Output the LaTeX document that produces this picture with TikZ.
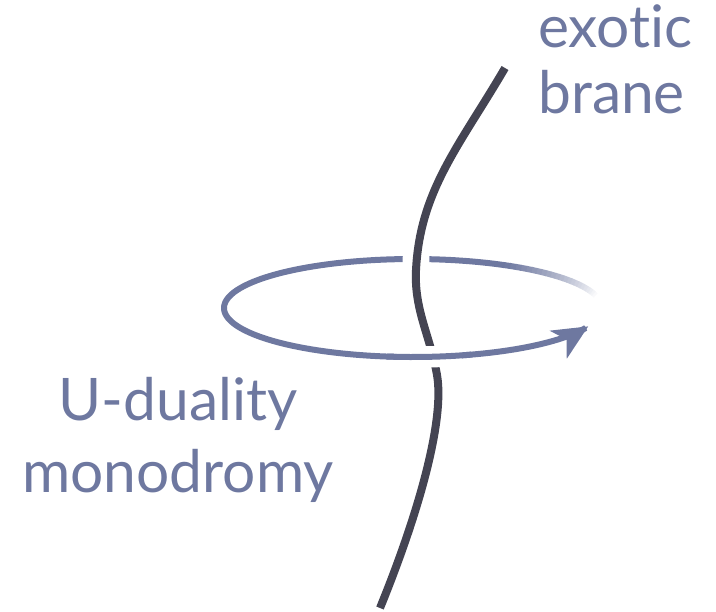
\documentclass[tikz,border=0pt]{standalone}
\usepackage{fontspec}
\setmainfont{Lato}[Ligatures=NoCommon]
\usepackage{xcolor}
\usepackage{tikz}
\usetikzlibrary{arrows.meta}
\definecolor{ardoise}{RGB}{110, 120, 160}
\definecolor{encre}{RGB}{68, 68, 82}

\begin{document}
\begin{tikzpicture}[x=0.75pt, y=-0.75pt,
    etiquette/.style={text=ardoise, inner sep=0pt},
    boucle/.style={draw=ardoise, line width=4.5pt},
    brane/.style={draw=encre, line width=6pt},
    halo/.style={draw=white, line width=#1}]
    \useasboundingbox (0,0) rectangle (716,611);
    % monodromy loop, faded start
    \foreach \a in {13,15,...,59}
      \pgfmathsetmacro{\pc}{(\a-13)/47*100}
      \draw[boucle, draw=ardoise!\pc!white]
        plot[domain=\a:\a+2.2, samples=4] ({413+189*cos(\x)},{308-49*sin(\x)});
    \draw[boucle] plot[domain=61:180, samples=60] ({413+189*cos(\x)},{308-49*sin(\x)});
    \draw[boucle, -{Stealth[length=26pt, width=24pt, inset=7pt]}]
      plot[domain=180:338, samples=80] ({413+189*cos(\x)},{308-49*sin(\x)});
    % the brane, passing in front of the top
    \draw[halo=20pt] (419,228) .. controls (416,250) .. (416,270) .. controls (415,280) .. (416,292);
    \draw[brane] (505,68) .. controls (460,145) and (420,190) .. (416,270)
      .. controls (414,310) and (430,335) .. (437,375)
      .. controls (444.7,419) and (420,510) .. (380,608);
    % loop passes in front at the bottom
    \draw[halo=16pt] plot[domain=265:285, samples=10] ({413+189*cos(\x)},{308-49*sin(\x)});
    \draw[boucle] plot[domain=262:288, samples=12] ({413+189*cos(\x)},{308-49*sin(\x)});
    % labels
    \node[etiquette, font=\fontsize{44}{49.5}\selectfont, anchor=north west, align=left]
      (exotic) at (538,4) {exotic\\brane};
    \node[etiquette, font=\fontsize{44}{54}\selectfont, anchor=north, align=center]
      (udual) at (178,377) {U-duality\\monodromy};
  \end{tikzpicture}
\end{document}
